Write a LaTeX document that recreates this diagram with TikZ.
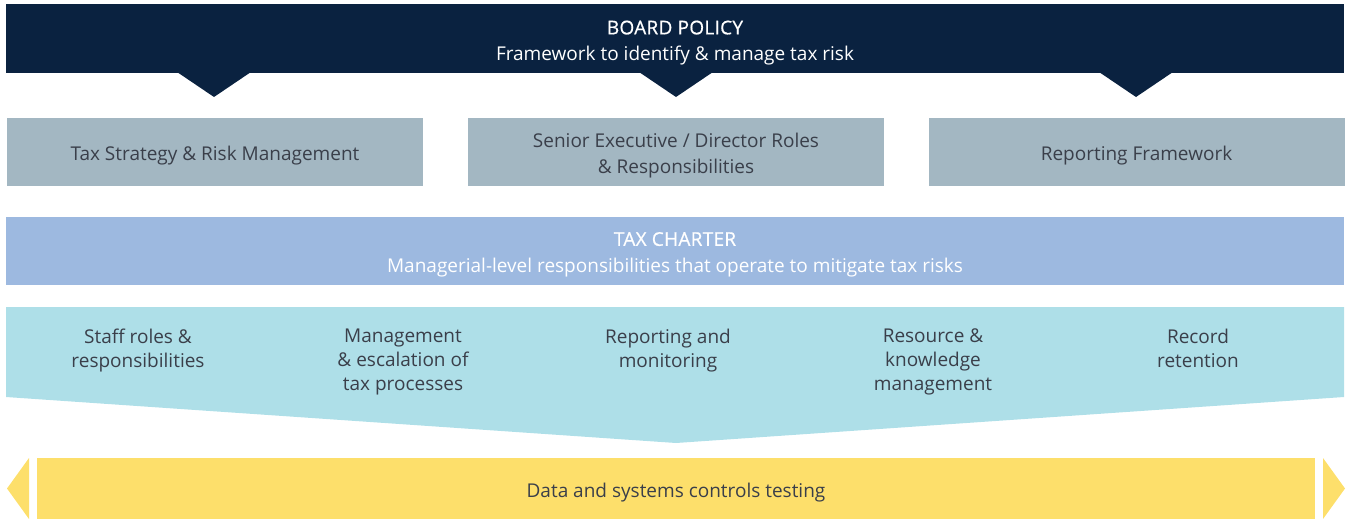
\documentclass[tikz,border=0pt]{standalone}
\usepackage{fontspec}
\setmainfont{Open Sans}
\usetikzlibrary{positioning}
\definecolor{navy}{HTML}{0A2240}
\definecolor{slate}{HTML}{A3B7C2}
\definecolor{charter}{HTML}{9DB9E0}
\definecolor{aqua}{HTML}{AEDFE8}
\definecolor{sun}{HTML}{FDDF6B}
\definecolor{ink}{HTML}{3A3F4A}
\newcommand{\heading}[1]{{\addfontfeature{FakeBold=0.6,LetterSpace=1.5}#1}}
\tikzset{
  txt/.style={text=ink, font=\fontsize{19}{26.5}\selectfont, align=center, yshift=-3.5pt},
  head/.style={txt, text=white},
  item/.style={txt, font=\fontsize{19}{24}\selectfont, anchor=north},
  pillar/.style={fill=slate, minimum width=416pt, minimum height=68pt, inner sep=0pt},
}

\begin{document}
\begin{tikzpicture}[x=1pt,y=-1pt]
\useasboundingbox (0,0) rectangle (1354,519);
% board policy with notches
\fill [navy] (6,4) rectangle (1344,73);
\foreach \c in {214,676,1136}
  \fill [navy] (\c-37,72) -- (\c,97) -- (\c+37,72) -- cycle;
\node [head] (board) at (675,39.5)
  {\heading{BOARD POLICY}\\Framework to identify \& manage tax risk};
% three pillars
\node [pillar] (strategy) at (215,152) {};
\node [pillar] (roles) at (676,152) {};
\node [pillar] (reporting) at (1136.5,152) {};
\node [txt] at (strategy) {Tax Strategy \& Risk Management};
\node [txt] at (roles) {Senior Executive / Director Roles\\\& Responsibilities};
\node [txt] at (reporting) {Reporting Framework};
% tax charter
\fill [charter] (6,217) rectangle (1344,285);
\node [head] (charter) at (675,251)
  {\heading{TAX CHARTER}\\Managerial-level responsibilities that operate to mitigate tax risks};
% processes
\fill [aqua] (6,307) -- (1344,307) -- (1344,397) -- (676,443) -- (6,397) -- cycle;
\node [item] (staff) at (138,322) {Staff roles \&\\responsibilities};
\node [item] (mgmt) at (403,322) {Management\\\& escalation of\\tax processes};
\node [item] (monitor) at (668,322) {Reporting and\\monitoring};
\node [item] (resource) at (933,322) {Resource \&\\knowledge\\management};
\node [item] (record) at (1198,322) {Record\\retention};
% controls testing
\fill [sun] (37,458) rectangle (1315,519);
\fill [sun] (29,458) -- (7,488.5) -- (29,519) -- cycle;
\fill [sun] (1323,458) -- (1345,488.5) -- (1323,519) -- cycle;
\node [txt] (testing) at (676,489) {Data and systems controls testing};
\end{tikzpicture}
\end{document}
